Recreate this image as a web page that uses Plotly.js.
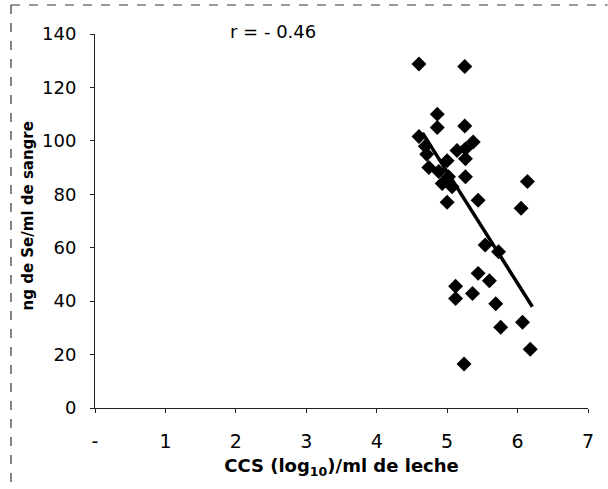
<!DOCTYPE html>
<html>
<head>
<meta charset="utf-8">
<script src="https://cdn.plot.ly/plotly-3.0.1.min.js"></script>
<style>html,body{margin:0;padding:0;background:#fff;}#chart{width:608px;height:489px;}</style>
</head>
<body>
<div id="chart"></div>
<script>
// CCS (log10)/ml de leche
var ccs = [4.60, 5.25, 4.86, 4.86, 5.25, 4.60, 5.37, 5.26, 5.14, 5.26,
           4.69, 4.71, 4.74, 5.00, 4.88, 5.02, 5.26, 4.93, 5.07, 5.00,
           5.44, 6.14, 6.05, 5.54, 5.73, 5.44, 5.60, 5.12, 5.12, 5.36,
           5.69, 6.07, 5.76, 6.18, 5.24];
// ng de Se/ml de sangre
var se = [128.8, 127.8, 110, 105, 105.6, 101.6, 99.6, 97, 96.4, 93.3,
          98, 95, 90, 92.6, 88.5, 86.6, 86.6, 84, 82.8, 77,
          77.8, 84.8, 74.8, 61, 58.5, 50.4, 47.6, 45.6, 41, 42.9,
          39, 32.1, 30.2, 22, 16.5];
// regression line
var trendX = [4.65, 6.21];
var trendY = [103, 37.9];
var xTickVals = [0, 1, 2, 3, 4, 5, 6, 7];
var xTickText = ['-', '1', '2', '3', '4', '5', '6', '7'];
var yTickVals = [0, 20, 40, 60, 80, 100, 120, 140];
var annotationText = 'r = - 0.46';

var FONT = 'DejaVu Sans, Liberation Sans, Arial, sans-serif';

var data = [
  {x: ccs, y: se, type: 'scatter', mode: 'markers',
   marker: {symbol: 'diamond', size: 11.5, color: '#000'}, hoverinfo: 'skip'},
  {x: trendX, y: trendY, type: 'scatter', mode: 'lines',
   line: {color: '#000', width: 3.5}, hoverinfo: 'skip'}
];

var layout = {
  width: 608, height: 489,
  margin: {l: 95, r: 20, t: 34, b: 81},
  paper_bgcolor: '#fff', plot_bgcolor: '#fff',
  showlegend: false,
  font: {family: FONT, color: '#000', size: 18},
  xaxis: {
    range: [0, 7], tickvals: xTickVals, ticktext: xTickText,
    showgrid: false, zeroline: false, showline: true, linecolor: '#222', linewidth: 1,
    ticks: 'outside', ticklen: 4, tickcolor: '#222',
    ticklabelstandoff: 12,
    tickfont: {size: 19},
    title: {text: '<b>CCS (log<sub>10</sub>)/ml de leche</b>', font: {size: 18}, standoff: 8}
  },
  yaxis: {
    range: [0, 140], tickvals: yTickVals,
    showgrid: false, zeroline: false, showline: true, linecolor: '#222', linewidth: 1,
    ticks: 'outside', ticklen: 4, tickcolor: '#222',
    ticklabelstandoff: 10,
    tickfont: {size: 18},
    title: {text: '<b>\u00a0\u00a0ng de Se/ml de sangre</b>', font: {size: 15}, standoff: 4}
  },
  annotations: [{
    text: annotationText, xref: 'x', yref: 'paper', x: 2.53, y: 1.007,
    xanchor: 'center', yanchor: 'middle', showarrow: false, font: {size: 18}
  }],
  shapes: [
    {type: 'line', layer: 'above', xref: 'paper', yref: 'paper', x0: -0.1704, x1: 1.04, y0: 1.0775, y1: 1.0775,
     line: {color: '#333', width: 1.2, dash: 'dash'}},
    {type: 'line', layer: 'above', xref: 'paper', yref: 'paper', x0: -0.1704, x1: -0.1704, y0: 1.0775, y1: -0.21,
     line: {color: '#333', width: 1.2, dash: 'dash'}}
  ]
};

Plotly.newPlot('chart', data, layout, {staticPlot: true, displayModeBar: false});
</script>
</body>
</html>
